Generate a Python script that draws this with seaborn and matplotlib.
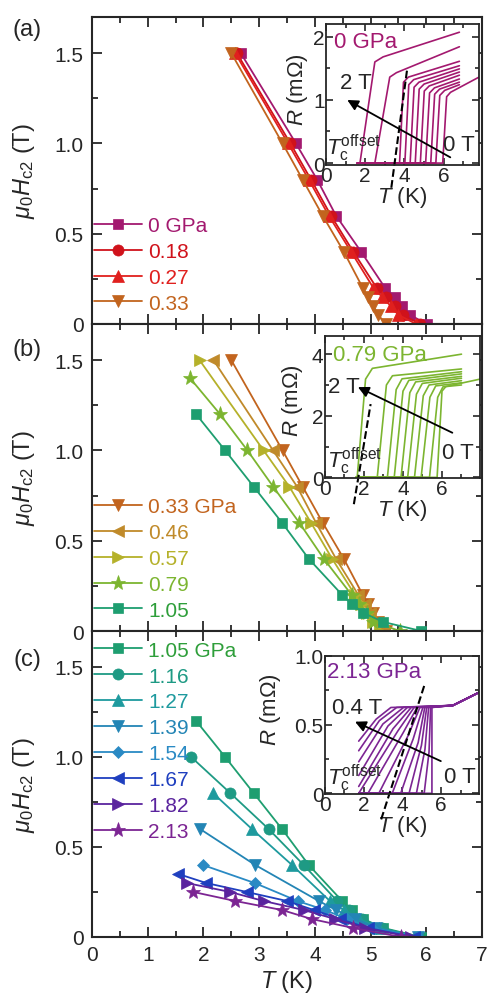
import numpy as np
import pandas as pd
import seaborn as sns
import matplotlib.pyplot as plt
from matplotlib.ticker import MultipleLocator, FuncFormatter

sns.set_style('ticks')
plt.rcParams['font.family'] = ['Liberation Sans', 'DejaVu Sans']
plt.rcParams['mathtext.fontset'] = 'custom'
plt.rcParams['mathtext.rm'] = 'Liberation Sans'
plt.rcParams['mathtext.it'] = 'Liberation Sans:italic'
plt.rcParams['font.size'] = 15

# ---- main panels: Tc offset (K) vs field (T) ----
H_std = [1.5, 1.0, 0.8, 0.6, 0.4, 0.2, 0.15, 0.1, 0.05, 0]
T_000 = [2.67, 3.66, 4.04, 4.38, 4.83, 5.26, 5.43, 5.56, 5.71, 6.01]
T_018 = [2.60, 3.56, 3.93, 4.29, 4.69, 5.11, 5.28, 5.43, 5.58, 5.89]
T_027 = [2.57, 3.52, 3.89, 4.25, 4.65, 5.05, 5.21, 5.36, 5.50, 5.82]
T_033 = [2.50, 3.42, 3.78, 4.14, 4.52, 4.86, 4.95, 5.05, 5.14, 5.27]
T_046 = [2.18, 3.25, 3.68, 4.02, 4.38, 4.78, 4.90, 4.99, 5.11, 5.23]
T_057 = [1.93, 3.08, 3.54, 3.93, 4.31, 4.72, 4.84, 4.93, 5.05, 5.17]
T_079 = [1.76, 2.30, 2.79, 3.25, 3.72, 4.16, 4.66, 4.80, 4.93, 5.05, 5.53]
H_079 = [1.4, 1.2, 1.0, 0.8, 0.6, 0.4, 0.2, 0.15, 0.1, 0.05, 0]
T_105 = [1.87, 2.39, 2.90, 3.41, 3.89, 4.49, 4.66, 4.87, 5.23, 5.91]
H_105 = [1.2, 1.0, 0.8, 0.6, 0.4, 0.2, 0.15, 0.1, 0.05, 0]
T_116 = [1.78, 2.48, 3.17, 3.80, 4.40, 4.62, 4.85, 5.20, 5.85]
H_116 = [1.0, 0.8, 0.6, 0.4, 0.2, 0.15, 0.1, 0.05, 0]
T_127 = [2.17, 2.87, 3.59, 4.27, 4.52, 4.80, 5.15, 5.85]
H_127 = [0.8, 0.6, 0.4, 0.2, 0.15, 0.1, 0.05, 0]
T_139 = [1.94, 2.93, 4.07, 4.38, 4.72, 5.10, 5.85]
H_139 = [0.6, 0.4, 0.2, 0.15, 0.1, 0.05, 0]
T_154 = [1.99, 2.92, 3.69, 4.18, 4.58, 5.02, 5.85]
H_154 = [0.4, 0.3, 0.2, 0.15, 0.1, 0.05, 0]
T_167 = [1.55, 2.05, 2.78, 3.50, 3.98, 4.45, 4.95, 5.78]
H_167 = [0.35, 0.3, 0.25, 0.2, 0.15, 0.1, 0.05, 0]
T_182 = [1.70, 2.48, 3.08, 3.80, 4.36, 4.90, 5.72]
H_182 = [0.3, 0.25, 0.2, 0.15, 0.1, 0.05, 0]
T_213 = [1.82, 2.57, 3.41, 3.94, 4.69, 5.55]
H_213 = [0.25, 0.2, 0.15, 0.1, 0.05, 0]

col = {'0': '#A3196F', '0.18': '#D0121B', '0.27': '#E0201E', '0.33': '#C2641E',
       '0.46': '#C08A2A', '0.57': '#B5B12A', '0.79': '#7CB530', '1.05': '#1E9E70',
       '1.16': '#1E9A84', '1.27': '#1E9A9E', '1.39': '#2385B5', '1.54': '#2A8AC4',
       '1.67': '#1F3FBF', '1.82': '#5A249E', '2.13': '#7C2593'}
txtcol = dict(col)
txtcol['1.05'] = '#2E9E3A'

panel_a = [('0 GPa', '0', T_000, H_std, 's'), ('0.18', '0.18', T_018, H_std, 'o'),
           ('0.27', '0.27', T_027, H_std, '^'), ('0.33', '0.33', T_033, H_std, 'v')]
panel_b = [('0.33 GPa', '0.33', T_033, H_std, 'v'), ('0.46', '0.46', T_046, H_std, '<'),
           ('0.57', '0.57', T_057, H_std, '>'), ('0.79', '0.79', T_079, H_079, '*'),
           ('1.05', '1.05', T_105, H_105, 's')]
panel_c = [('1.05 GPa', '1.05', T_105, H_105, 's'), ('1.16', '1.16', T_116, H_116, 'o'),
           ('1.27', '1.27', T_127, H_127, '^'), ('1.39', '1.39', T_139, H_139, 'v'),
           ('1.54', '1.54', T_154, H_154, 'D'), ('1.67', '1.67', T_167, H_167, '<'),
           ('1.82', '1.82', T_182, H_182, '>'), ('2.13', '2.13', T_213, H_213, '*')]
msize = {'s': 7.5, 'o': 8, '^': 8.5, 'v': 8.5, '<': 8.5, '>': 8.5, '*': 11, 'D': 6.5}

# ---- insets: R(T) curves ----
# (a) 0 GPa, mOhm
a_T0 = [1.73, 2.49, 3.75, 4.02, 4.29, 4.55, 4.81, 5.08, 5.34, 5.60, 5.95]
a_Ttop = [2.49, 3.25, 3.95, 4.22, 4.49, 4.75, 5.01, 5.28, 5.54, 5.80, 6.15]
a_Rtop = [1.60, 1.36, 1.28, 1.24, 1.20, 1.17, 1.14, 1.11, 1.09, 1.07, 1.05]
a_Tk = [2.91, 3.59, 4.20, 4.47, 4.74, 5.00, 5.26, 5.53, 5.79, 6.05, 6.35]
a_Rk = [1.68, 1.43, 1.36, 1.32, 1.28, 1.25, 1.22, 1.19, 1.17, 1.15, 1.12]
a_Tend = [6.8, 6.8, 6.8, 6.8, 6.8, 6.8, 6.8, 6.8, 6.8, 6.8, 7.8]
a_Rend = [2.07, 1.84, 1.61, 1.54, 1.49, 1.44, 1.39, 1.33, 1.28, 1.24, 1.36]
# (b) 0.79 GPa
b_T0 = [1.65, 2.68, 3.20, 3.55, 3.90, 4.24, 4.59, 4.93, 5.36, 5.75]
b_Ttop = [2.08, 3.15, 3.65, 4.00, 4.35, 4.69, 5.04, 5.38, 5.78, 6.00]
b_Rtop = [3.19, 3.00, 2.85, 2.80, 2.75, 2.70, 2.65, 2.60, 2.60, 2.80]
b_Tk = [2.43, 3.46, 3.95, 4.30, 4.65, 4.99, 5.34, 5.68, 6.05, 6.20]
b_Rk = [3.54, 3.30, 3.20, 3.15, 3.10, 3.05, 3.00, 2.97, 2.94, 2.95]
b_Tend = [7.0, 7.0, 7.0, 7.0, 7.0, 7.0, 7.0, 7.0, 7.0, 7.95]
b_Rend = [4.00, 3.52, 3.43, 3.36, 3.28, 3.22, 3.14, 3.07, 3.00, 3.19]
# (c) 2.13 GPa
c_Ts = [1.74, 1.74, 1.74, 1.74, 1.74, 1.74, 2.22, 2.78, 3.47, 3.91, 4.34, 4.72, 5.12, 5.52]
c_Rs = [0.38, 0.31, 0.23, 0.13, 0.05, 0, 0, 0, 0, 0, 0, 0, 0, 0]
c_Tm = [2.64, 2.81, 2.99, 3.25, 3.51, 3.77, 4.03, 4.29, 4.55, 4.81, 4.98, 5.16, 5.37, 5.52]
c_Rm = [0.54, 0.53, 0.505, 0.49, 0.47, 0.456, 0.44, 0.42, 0.395, 0.37, 0.35, 0.32, 0.30, 0.30]
c_Tk = [3.40, 3.70, 4.05, 4.25, 4.45, 4.60, 4.75, 4.90, 5.05, 5.15, 5.25, 5.35, 5.45, 5.52]
c_plateau_T = [6.6, 7.95]
c_plateau_R = [0.64, 0.735]

fig = plt.figure(figsize=(4.88, 10.04), dpi=100)
L, W = 92 / 488, 390 / 488
ax_a = fig.add_axes([L, 1 - 325 / 1004, W, 307 / 1004])
ax_b = fig.add_axes([L, 1 - 632 / 1004, W, 307 / 1004])
ax_c = fig.add_axes([L, 1 - 938 / 1004, W, 306 / 1004])

yfmt = FuncFormatter(lambda v, p: '0' if abs(v) < 1e-9 else f'{v:.1f}')

def draw_main(ax, series, leg_loc, leg_anchor):
    for lab, key, T, H, m in series:
        sns.lineplot(x=T, y=H, ax=ax, color=col[key], marker=m, markersize=msize[m],
                     markeredgecolor=col[key], markeredgewidth=0.5, lw=1.3,
                     sort=False, estimator=None, label=lab)
    ax.set_xlim(0, 7)
    ax.set_ylim(0, 1.7)
    ax.xaxis.set_major_locator(MultipleLocator(1))
    ax.xaxis.set_minor_locator(MultipleLocator(0.5))
    ax.yaxis.set_major_locator(MultipleLocator(0.5))
    ax.yaxis.set_minor_locator(MultipleLocator(0.25))
    ax.yaxis.set_major_formatter(yfmt)
    ax.tick_params(which='both', direction='in', top=True, right=True, width=1.3)
    ax.tick_params(which='major', length=7, labelsize=15, pad=6)
    ax.tick_params(which='minor', length=4)
    for s in ax.spines.values():
        s.set_linewidth(1.5)
    ax.set_ylabel(r'$\mu_0H_{\rm c2}$ (T)', fontsize=17)
    ax.yaxis.set_label_coords(-0.14, 0.5)
    leg = ax.legend(loc=leg_loc, bbox_to_anchor=leg_anchor, frameon=False, fontsize=15,
                    handlelength=2.3, handletextpad=0.3, labelspacing=0.33,
                    borderaxespad=0, borderpad=0.1)
    for t, (lab, key, T, H, m) in zip(leg.get_texts(), series):
        t.set_color(txtcol[key])

draw_main(ax_a, panel_a, 'lower left', (0.0, 0.03))
draw_main(ax_b, panel_b, 'lower left', (0.0, 0.03))
draw_main(ax_c, panel_c, 'upper left', (0.0, 0.975))
ax_a.set_xticklabels([])
ax_b.set_xticklabels([])
ax_a.set_xlabel('')
ax_b.set_xlabel('')
ax_c.set_xlabel(r'$T$ (K)', fontsize=17, labelpad=3)

for lab, ypix in [('(a)', 30), ('(b)', 350), ('(c)', 660)]:
    fig.text(27 / 488, 1 - ypix / 1004, lab, fontsize=17, ha='center', va='center')

def inset_axes(rect, xlim, ylim, ymaj):
    ax = fig.add_axes(rect)
    ax.set_xlim(*xlim)
    ax.set_ylim(*ylim)
    ax.xaxis.set_major_locator(MultipleLocator(2))
    ax.xaxis.set_minor_locator(MultipleLocator(1))
    ax.yaxis.set_major_locator(MultipleLocator(ymaj))
    ax.yaxis.set_minor_locator(MultipleLocator(ymaj / 2))
    ax.tick_params(which='both', direction='in', top=True, right=True, width=1.2)
    ax.tick_params(which='major', length=5, labelsize=15, pad=1)
    ax.tick_params(which='minor', length=3)
    for s in ax.spines.values():
        s.set_linewidth(1.3)
    ax.set_xlabel(r'$T$ (K)', fontsize=16, labelpad=-1)
    ax.set_ylabel(r'$R$ (m$\Omega$)', fontsize=16)
    return ax

def curve(ax, T, R, c):
    sns.lineplot(x=T, y=R, ax=ax, color=c, lw=1.2, sort=False, estimator=None, legend=False)

# inset a
ia = inset_axes([326 / 488, 1 - 166 / 1004, 153 / 488, 141 / 1004], (0, 7.8), (-0.03, 2.2), 1)
for i in range(len(a_T0)):
    curve(ia, [1.6, a_T0[i], a_Ttop[i], a_Tk[i], a_Tend[i]],
          [0, 0, a_Rtop[i], a_Rk[i], a_Rend[i]], col['0'])
ia.plot([3.33, 4.13], [-0.39, 1.47], 'k--', lw=1.5, clip_on=False)
ia.annotate('', xy=(0.96, 1.02), xytext=(6.46, 0.07),
            arrowprops=dict(arrowstyle='-|>', color='k', lw=1.3, mutation_scale=16))
ia.text(0.4, 1.93, '0 GPa', color=col['0'], fontsize=16, va='center')
ia.text(1.52, 1.27, '2 T', fontsize=16, ha='center', va='center')
ia.text(6.75, 0.3, '0 T', fontsize=16, ha='center', va='center')
ia.text(0.0, 0.0, r'$T_{\rm c}^{\rm offset}$', fontsize=16, va='bottom')
ia.yaxis.set_label_coords(-0.105, 0.54)

# inset b
ib = inset_axes([325 / 488, 1 - 479 / 1004, 155 / 488, 142 / 1004], (0, 7.95), (-0.02, 4.59), 2)
for i in range(len(b_T0)):
    curve(ib, [1.6, b_T0[i], b_Ttop[i], b_Tk[i], b_Tend[i]],
          [0, 0, b_Rtop[i], b_Rk[i], b_Rend[i]], col['0.79'])
ib.plot([1.48, 2.34], [-0.87, 2.38], 'k--', lw=1.5, clip_on=False)
ib.annotate('', xy=(1.56, 2.97), xytext=(6.66, 1.41),
            arrowprops=dict(arrowstyle='-|>', color='k', lw=1.3, mutation_scale=16))
ib.text(0.4, 3.99, '0.79 GPa', color=col['0.79'], fontsize=16, va='center')
ib.text(0.96, 2.95, '2 T', fontsize=16, ha='center', va='center')
ib.text(6.8, 0.8, '0 T', fontsize=16, ha='center', va='center')
ib.text(0.1, 0.05, r'$T_{\rm c}^{\rm offset}$', fontsize=16, va='bottom')
ib.yaxis.set_label_coords(-0.13, 0.55)

# inset c
ic = inset_axes([325 / 488, 1 - 795 / 1004, 154 / 488, 138 / 1004], (0, 7.95), (-0.005, 1.0), 0.5)
ic.yaxis.set_major_formatter(FuncFormatter(lambda v, p: '0' if abs(v) < 1e-9 else f'{v:.1f}'))
for i in range(len(c_Ts)):
    Tx = [c_Ts[i], c_Tm[i], c_Tk[i]] + c_plateau_T
    Ry = [c_Rs[i], c_Rm[i], 0.625] + c_plateau_R
    if c_Rs[i] == 0:
        Tx = [1.74] + Tx
        Ry = [0] + Ry
    if i == len(c_Ts) - 1:
        Ry[2] = 0.0
    curve(ic, Tx, Ry, col['2.13'])
ic.plot([2.9, 5.16], [-0.19, 0.80], 'k--', lw=1.5, clip_on=False)
ic.annotate('', xy=(1.42, 0.53), xytext=(6.11, 0.226),
            arrowprops=dict(arrowstyle='-|>', color='k', lw=1.3, mutation_scale=16))
ic.text(0.1, 0.89, '2.13 GPa', color=col['2.13'], fontsize=16, va='center')
ic.text(1.64, 0.625, '0.4 T', fontsize=16, ha='center', va='center')
ic.text(6.98, 0.12, '0 T', fontsize=16, ha='center', va='center')
ic.text(0.1, 0.0, r'$T_{\rm c}^{\rm offset}$', fontsize=16, va='bottom')
ic.yaxis.set_label_coords(-0.27, 0.62)

fig.savefig('out.png', dpi=100)
